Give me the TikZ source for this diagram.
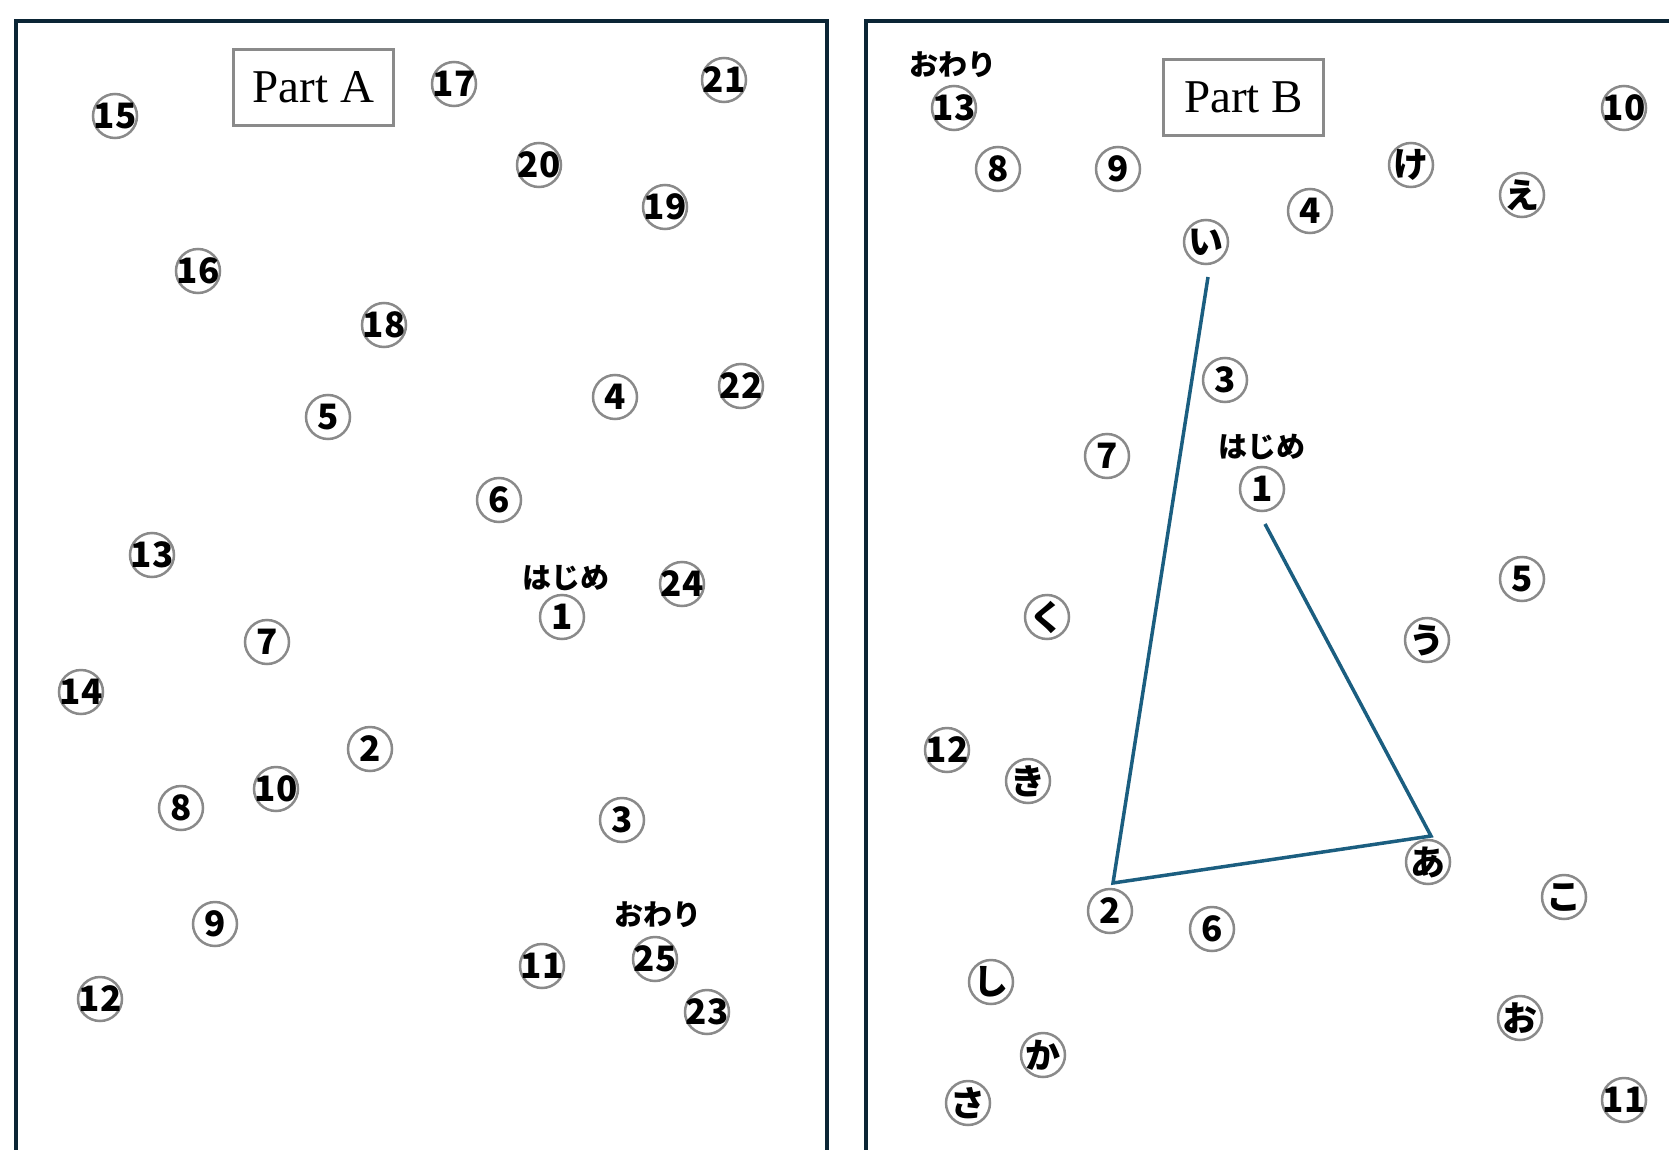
\documentclass[tikz,border=0pt]{standalone}
\usepackage{fontspec}
\usetikzlibrary{calc}
\newfontfamily\jpfont{Noto Sans CJK JP}
\newfontfamily\serifpart{Liberation Serif}
\definecolor{framecol}{HTML}{0B2535}
\definecolor{ringgray}{HTML}{8A8A8A}
\definecolor{trailblue}{HTML}{1B5E80}
\newcommand\dotat[3]{\node[dotnode] (#1) at (#2) {\makebox[0pt]{#3}};}
\tikzset{
  dotnode/.style={circle, draw=ringgray, line width=2.5pt, minimum size=44pt, inner sep=0pt,
    font=\jpfont\bfseries\fontsize{35pt}{35pt}\selectfont},
  tag/.style={inner sep=0pt, font=\jpfont\bfseries\fontsize{29pt}{29pt}\selectfont},
  partbox/.style={draw=ringgray, line width=3pt, minimum width=160pt, minimum height=76pt,
    inner sep=0pt, font=\serifpart\fontsize{47pt}{47pt}\selectfont},
  frameline/.style={draw=framecol, line width=4pt},
  trail/.style={draw=trailblue, line width=3.5pt, line join=miter}
}
\begin{document}
\begin{tikzpicture}[x=1pt,y=-1pt]
\useasboundingbox (0,0) rectangle (1669,1150);
\clip (0,0) rectangle (1669,1150);
% frames
\draw[frameline] (16,1170) -- (16,21) -- (827,21) -- (827,1170);
\draw[frameline] (866,1170) -- (866,21) -- (1690,21);
% Part A
\node[partbox] (partA) at (313.5,87.5) {Part A};
\dotat{a15}{115,116}{15}
\dotat{a17}{454,84}{17}
\dotat{a21}{724,80}{21}
\dotat{a20}{539,165}{20}
\dotat{a19}{665,207}{19}
\dotat{a16}{198,271}{16}
\dotat{a18}{384,325}{18}
\dotat{a22}{741,386}{22}
\dotat{a4}{615,397}{4}
\dotat{a5}{328,417}{5}
\dotat{a6}{499,500}{6}
\dotat{a13}{152,555}{13}
\dotat{a1}{562,617}{1}
\dotat{a24}{682,584}{24}
\dotat{a7}{267,642}{7}
\dotat{a14}{81,692}{14}
\dotat{a2}{370,749}{2}
\dotat{a10}{276,789}{10}
\dotat{a8}{181,808}{8}
\dotat{a3}{622,820}{3}
\dotat{a9}{215,924}{9}
\dotat{a25}{655,959}{25}
\dotat{a11}{542,966}{11}
\dotat{a12}{100,999}{12}
\dotat{a23}{707,1012}{23}
\node[tag] (startA) at (566,578) {はじめ};
\node[tag] (endA) at (658,915) {おわり};
% Part B
\node[partbox] (partB) at (1243.5,97.5) {Part B};
\dotat{b13}{954,108}{13}
\dotat{b10}{1624,108}{10}
\dotat{b8}{998,169}{8}
\dotat{b9}{1118,169}{9}
\dotat{bke}{1411,165}{け}
\dotat{be}{1522,195}{え}
\dotat{b4}{1310,211}{4}
\dotat{bi}{1206,242}{い}
\dotat{b3}{1225,380}{3}
\dotat{b7}{1107,456}{7}
\dotat{b1}{1262,489}{1}
\dotat{b5}{1522,579}{5}
\dotat{bku}{1047,617}{く}
\dotat{bu}{1427,640}{う}
\dotat{b12}{947,750}{12}
\dotat{bki}{1028,781}{き}
\dotat{ba}{1428,862}{あ}
\dotat{bko}{1564,897}{こ}
\dotat{b2}{1110,911}{2}
\dotat{b6}{1212,929}{6}
\dotat{bshi}{991,982}{し}
\dotat{bo}{1520,1018}{お}
\dotat{bka}{1043,1055}{か}
\dotat{b11}{1624,1100}{11}
\dotat{bsa}{968,1103}{さ}
\node[tag] (startB) at (1262,447) {はじめ};
\node[tag] (endB) at (953,65) {おわり};
% trail
\coordinate (e1) at ($(b1)+(3,35)$);
\coordinate (ca) at ($(ba)+(3,-26)$);
\coordinate (c2) at ($(b2)+(3,-28)$);
\coordinate (ei) at ($(bi)+(2,35)$);
\draw[trail] (e1) -- (ca) -- (c2) -- (ei);
\end{tikzpicture}
\end{document}
